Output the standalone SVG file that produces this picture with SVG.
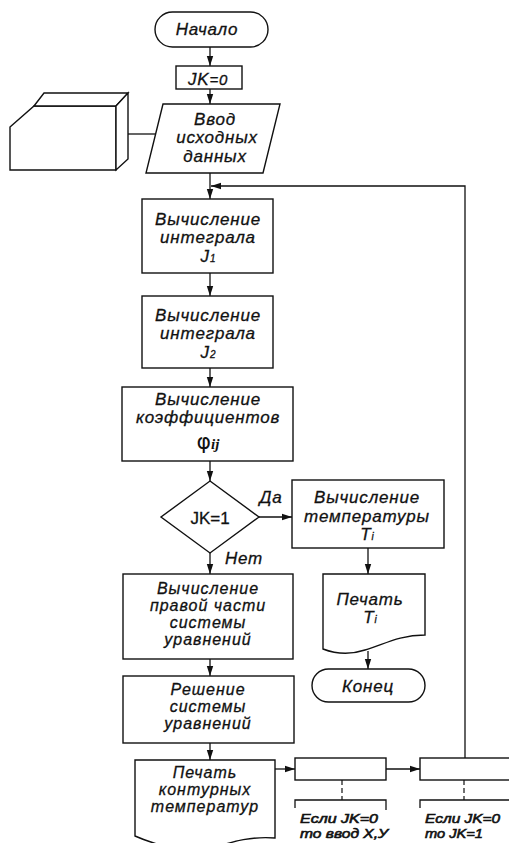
<svg xmlns="http://www.w3.org/2000/svg" width="509" height="843" viewBox="0 0 509 843">
<defs>
<marker id="ah" markerWidth="10" markerHeight="8" refX="10" refY="4" orient="auto" markerUnits="userSpaceOnUse">
<path d="M0,0.8 L10,4 L0,7.2 Z" fill="#111"/>
</marker>
<style>
.s{fill:#fff;stroke:#111;stroke-width:1.4;stroke-linejoin:miter}
.c{fill:none;stroke:#111;stroke-width:1.3}
.d{fill:none;stroke:#111;stroke-width:1.2;stroke-dasharray:5,3}
.t{font-family:"Liberation Sans",Arial,sans-serif;font-style:italic;font-size:17px;letter-spacing:0.8px;fill:#111;stroke:#111;stroke-width:0.3;text-anchor:middle}
.k{font-size:16px;letter-spacing:1px}
.u{font-family:"Liberation Sans",Arial,sans-serif;font-size:17px;fill:#111;stroke:#111;stroke-width:0.3;text-anchor:middle}
.sub{font-size:10px;letter-spacing:0}
.n{font-family:"Liberation Sans",Arial,sans-serif;font-style:italic;font-size:13px;fill:#111;stroke:#111;stroke-width:0.6}
</style>
</defs>
<rect width="509" height="843" fill="#fff"/>

<g id="connectors">
<path class="c" d="M210,47 V66" marker-end="url(#ah)"/>
<path class="c" d="M210,89 V104" marker-end="url(#ah)"/>
<path class="c" d="M128,134 H156"/>
<path class="c" d="M210,173 V199" marker-end="url(#ah)"/>
<path class="c" d="M465,758 V186 H211" marker-end="url(#ah)"/>
<path class="c" d="M210,273 V296" marker-end="url(#ah)"/>
<path class="c" d="M210,368 V387" marker-end="url(#ah)"/>
<path class="c" d="M210,461 V481" marker-end="url(#ah)"/>
<path class="c" d="M259,517 H292" marker-end="url(#ah)"/>
<path class="c" d="M210,553 V574" marker-end="url(#ah)"/>
<path class="c" d="M368,548 V574" marker-end="url(#ah)"/>
<path class="c" d="M368,651 V669" marker-end="url(#ah)"/>
<path class="c" d="M210,659 V676" marker-end="url(#ah)"/>
<path class="c" d="M210,743 V760" marker-end="url(#ah)"/>
<path class="c" d="M275,769 H295" marker-end="url(#ah)"/>
<path class="c" d="M386,769 H420" marker-end="url(#ah)"/>
<path class="d" d="M342,780 V800"/>
<path class="d" d="M464,780 V800"/>
<text class="t" x="271" y="503">Да</text>
<text class="t" x="244" y="564">Нет</text>
</g>

<g id="start">
<rect class="s" x="155" y="12" width="113" height="35" rx="17.5"/>
<text class="t" x="207" y="35">Начало</text>
</g>

<g id="init">
<rect class="s" x="176" y="66" width="66" height="23"/>
<text class="t" x="208" y="85">JK<tspan style="font-size:15px">=0</tspan></text>
</g>

<g id="device">
<path class="s" d="M10,127 L34,106 L116,106 L116,170 L10,170 Z"/>
<path class="s" d="M34,106 L44,93 L128,93 L116,106 Z"/>
<path class="s" d="M116,106 L128,93 L128,159 L116,170 Z"/>
</g>

<g id="input">
<path class="s" d="M163,104 L280,104 L263,173 L146,173 Z"/>
<text class="t" x="215" y="125">Ввод</text>
<text class="t" x="217" y="143">исходных</text>
<text class="t" x="215" y="162">данных</text>
</g>

<g id="integral1">
<rect class="s" x="142" y="199" width="131" height="74"/>
<text class="t" x="208" y="225">Вычисление</text>
<text class="t" x="208" y="243">интеграла</text>
<text class="t" x="208" y="262">J<tspan class="sub">1</tspan></text>
</g>

<g id="integral2">
<rect class="s" x="142" y="296" width="131" height="72"/>
<text class="t" x="208" y="321">Вычисление</text>
<text class="t" x="208" y="339">интеграла</text>
<text class="t" x="208" y="358">J<tspan class="sub">2</tspan></text>
</g>

<g id="coeffs">
<rect class="s" x="122" y="387" width="171" height="74"/>
<text class="t" x="208" y="405">Вычисление</text>
<text class="t" x="208" y="423">коэффициентов</text>
<text x="208" y="449" style="font-family:'DejaVu Sans',sans-serif;font-size:22px;fill:#111;text-anchor:middle">φ<tspan style="font-family:'Liberation Serif',serif;font-style:italic;font-size:15px;font-weight:bold">ij</tspan></text>
</g>

<g id="decision">
<path class="s" d="M210,481 L259,517 L210,553 L161,517 Z"/>
<text class="u" x="210" y="524">JK=1</text>
</g>

<g id="temperature">
<rect class="s" x="292" y="480" width="152" height="68"/>
<text class="t" x="367" y="503">Вычисление</text>
<text class="t" x="367" y="522">температуры</text>
<text class="t" x="367" y="540">T<tspan class="sub">i</tspan></text>
</g>

<g id="printTi">
<path class="s" d="M323,574 L425,574 L425,635 C398,635 383,645 365,650 C350,655 336,654 323,649 Z"/>
<text class="t" x="370" y="605">Печать</text>
<text class="t" x="370" y="623">T<tspan class="sub">i</tspan></text>
</g>

<g id="end">
<rect class="s" x="312" y="669" width="113" height="33" rx="16.5"/>
<text class="t" x="368" y="692">Конец</text>
</g>

<g id="rhs">
<rect class="s" x="123" y="574" width="170" height="85"/>
<text class="t k" x="208" y="594">Вычисление</text>
<text class="t k" x="208" y="611">правой части</text>
<text class="t k" x="208" y="628">системы</text>
<text class="t k" x="208" y="645">уравнений</text>
</g>

<g id="solve">
<rect class="s" x="123" y="676" width="171" height="67"/>
<text class="t k" x="208" y="695">Решение</text>
<text class="t k" x="208" y="712">системы</text>
<text class="t k" x="208" y="729">уравнений</text>
</g>

<g id="printContour">
<path class="s" d="M135,760 L275,760 L275,838 C250,836 232,842 212,848 C190,853 160,847 135,836 Z"/>
<text class="t k" x="205" y="778">Печать</text>
<text class="t k" x="205" y="795">контурных</text>
<text class="t k" x="205" y="812">температур</text>
</g>

<g id="switch1">
<rect class="s" x="295" y="758" width="91" height="22"/>
<path class="c" d="M295,808 V800 H386 V810"/>
<text class="n" x="300" y="823" textLength="78" lengthAdjust="spacingAndGlyphs">Если JK=0</text>
<text class="n" x="300" y="838" textLength="88" lengthAdjust="spacingAndGlyphs">то ввод X,У</text>
</g>

<g id="switch2">
<rect class="s" x="420" y="758" width="100" height="22"/>
<path class="c" d="M420,808 V800 H515"/>
<text class="n" x="425" y="823" textLength="75" lengthAdjust="spacingAndGlyphs">Если JK=0</text>
<text class="n" x="425" y="838" textLength="58" lengthAdjust="spacingAndGlyphs">то JK=1</text>
</g>
</svg>
